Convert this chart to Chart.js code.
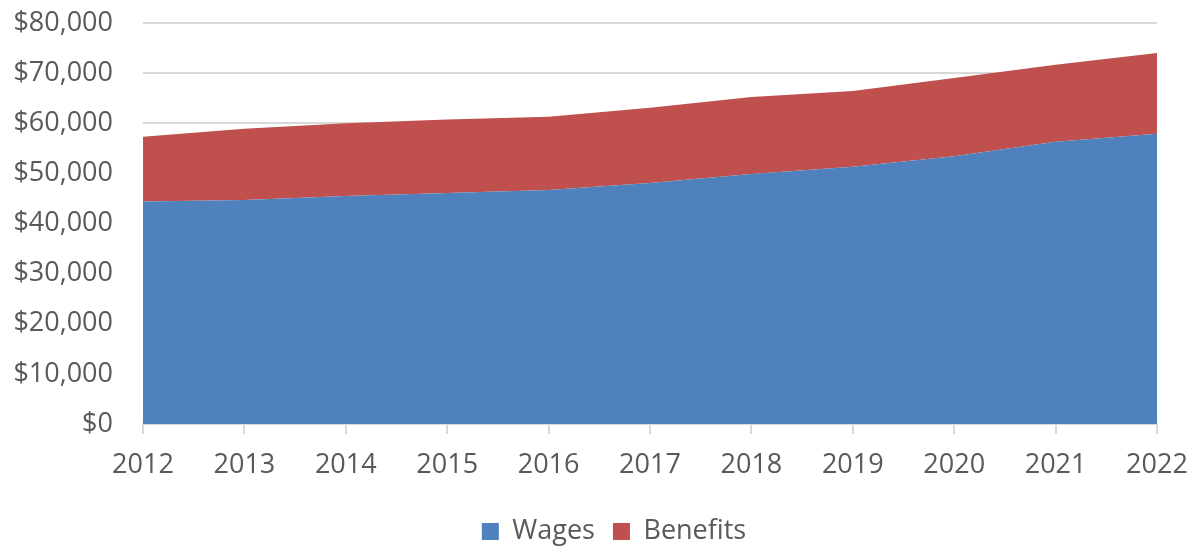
<!DOCTYPE html>
<html>
<head>
<meta charset="utf-8">
<script src="https://cdn.jsdelivr.net/npm/chart.js@4"></script>
<style>
  html, body { margin: 0; padding: 0; background: #fff; }
  #wrap { width: 1198px; height: 548px; }
</style>
</head>
<body>
<div id="wrap"><canvas id="chart"></canvas></div>
<script>
const years = ['2012', '2013', '2014', '2015', '2016', '2017', '2018', '2019', '2020', '2021', '2022'];
const wages = [44400, 44700, 45500, 46100, 46700, 48100, 49900, 51300, 53400, 56300, 57900];
const benefits = [12900, 14200, 14500, 14650, 14600, 15000, 15350, 15150, 15650, 15350, 16100];
const yTicks = [0, 10000, 20000, 30000, 40000, 50000, 60000, 70000, 80000];

const textColor = '#595959';
const gridColor = '#d9d9d9';
const fontFamily = '"Open Sans", "Liberation Sans", sans-serif';

// move the legend to where Excel put it (lower, a bit right of centre)
const legendShift = {
  id: 'legendShift',
  afterLayout(chart) {
    const lg = chart.legend;
    if (lg) {
      const dy = 548 + 7 - lg.bottom;
      lg.top += dy;
      lg.bottom += dy;
      const dx = 614 - (lg.left + lg.right) / 2;
      lg.left += dx;
      lg.right += dx;
    }
  }
};

const ctx = document.getElementById('chart').getContext('2d');

new Chart(ctx, {
  type: 'line',
  data: {
    labels: years,
    datasets: [
      {
        label: 'Wages',
        data: wages,
        backgroundColor: '#4f81bd',
        borderColor: '#4f81bd',
        borderWidth: 0,
        fill: 'origin',
        pointRadius: 0,
        tension: 0
      },
      {
        label: 'Benefits',
        data: benefits,
        backgroundColor: '#c0504d',
        borderColor: '#c0504d',
        borderWidth: 0,
        fill: '-1',
        pointRadius: 0,
        tension: 0
      }
    ]
  },
  plugins: [legendShift],
  options: {
    responsive: true,
    maintainAspectRatio: false,
    animation: false,
    layout: { padding: { left: 0, right: 41, top: 23, bottom: 0 } },
    plugins: {
      tooltip: { enabled: false },
      legend: {
        position: 'bottom',
        labels: {
          color: textColor,
          font: { family: fontFamily, size: 27 },
          boxWidth: 17,
          boxHeight: 17,
          padding: 18
        }
      }
    },
    scales: {
      x: {
        offset: false,
        border: { display: true, color: gridColor, width: 2 },
        grid: { drawOnChartArea: false, drawTicks: true, tickLength: 10, color: gridColor, lineWidth: 2 },
        ticks: { color: textColor, font: { family: fontFamily, size: 27 }, padding: 15, maxRotation: 0 },
        afterFit: scale => {
          scale.height = 69;
          scale.paddingLeft = 0;
          scale.paddingRight = 0;
        }
      },
      y: {
        stacked: true,
        min: 0,
        max: 80000,
        border: { display: false },
        grid: { color: gridColor, lineWidth: 2, drawTicks: false },
        afterBuildTicks: scale => { scale.ticks = yTicks.map(v => ({ value: v })); },
        ticks: {
          color: textColor,
          font: { family: fontFamily, size: 27 },
          padding: 30,
          callback: v => '$' + Number(v).toLocaleString('en-US')
        },
        afterFit: scale => {
          scale.width = 143;
          scale.paddingTop = 0;
          scale.paddingBottom = 0;
        }
      }
    }
  }
});
</script>
</body>
</html>
